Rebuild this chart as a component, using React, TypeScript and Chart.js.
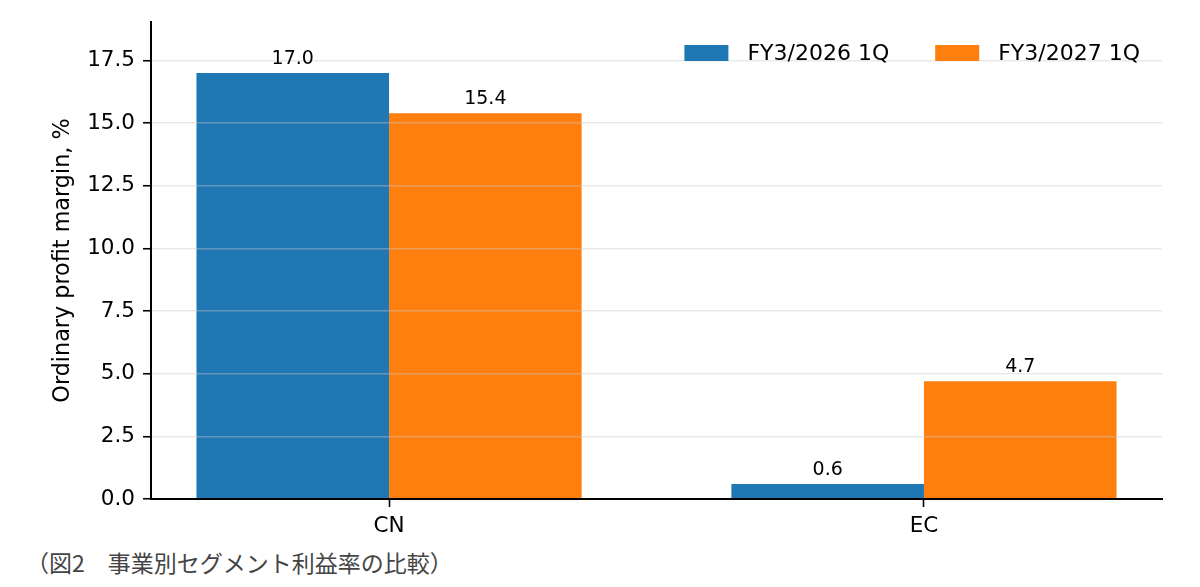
import { useEffect, useRef } from 'react';
import { Chart, registerables } from 'chart.js';
Chart.register(...registerables);

const categories = ['CN', 'EC'];
const seriesNames = ['FY3/2026 1Q', 'FY3/2027 1Q'];
const fy2026 = [17.0, 0.6];
const fy2027 = [15.4, 4.7];
const seriesColors = ['#1f77b4', '#ff7f0e'];
const yTicks = [0, 2.5, 5, 7.5, 10, 12.5, 15, 17.5];
const yMax = 19.04;
const yTitle = 'Ordinary profit margin, %';
const caption = '（図2　事業別セグメント利益率の比較）';

const FONT = '"DejaVu Sans", sans-serif';

// value labels above every bar
const valueLabels = {
  id: 'valueLabels',
  afterDraw(chart: any) {
    const ctx = chart.ctx;
    ctx.save();
    ctx.font = `19px ${FONT}`;
    ctx.fillStyle = '#000';
    ctx.textAlign = 'center';
    ctx.textBaseline = 'alphabetic';
    chart.data.datasets.forEach((ds: any, di: number) => {
      chart.getDatasetMeta(di).data.forEach((el: any, i: number) => {
        ctx.fillText(ds.data[i].y.toFixed(1), el.x, el.y - 9);
      });
    });
    ctx.restore();
  },
};

// matplotlib-like legend inside the upper right of the plot area
const innerLegend = {
  id: 'innerLegend',
  afterDraw(chart: any) {
    const { ctx, chartArea } = chart;
    ctx.save();
    ctx.font = `22px ${FONT}`;
    ctx.textBaseline = 'middle';
    ctx.textAlign = 'left';
    const boxW = 44, boxH = 16, boxGap = 19, itemGap = 46;
    const items = chart.data.datasets.map((ds: any) => ({
      label: ds.label,
      color: ds.backgroundColor,
      w: ctx.measureText(ds.label).width,
    }));
    const total = items.reduce((s: number, it: any) => s + boxW + boxGap + it.w, 0) + itemGap * (items.length - 1);
    let x = chartArea.right - 22 - total;
    const cy = chartArea.top + 31;
    items.forEach((it: any) => {
      ctx.fillStyle = it.color;
      ctx.fillRect(x, cy - boxH / 2, boxW, boxH);
      ctx.fillStyle = '#000';
      ctx.fillText(it.label, x + boxW + boxGap, cy + 1);
      x += boxW + boxGap + it.w + itemGap;
    });
    ctx.restore();
  },
};

export default function App() {
  const canvasRef = useRef<HTMLCanvasElement>(null);

  useEffect(() => {
    Chart.defaults.font.family = FONT;
    Chart.defaults.color = '#000';

    const series = [fy2026, fy2027];
    const chart = new Chart(canvasRef.current!, {
      type: 'bar',
      data: {
        datasets: series.map((vals, si) => ({
          label: seriesNames[si],
          data: categories.map((_, i) => ({ x: i, y: vals[i] })),
          backgroundColor: seriesColors[si],
          borderWidth: 0,
          categoryPercentage: 0.72,
          barPercentage: 1,
        })),
      },
      options: {
        animation: false,
        responsive: true,
        maintainAspectRatio: false,
        layout: { padding: { top: 22, right: 38, left: 0, bottom: 0 } },
        plugins: { legend: { display: false }, tooltip: { enabled: false } },
        scales: {
          x: {
            type: 'linear',
            offset: false,
            min: -0.445,
            max: 1.445,
            afterBuildTicks: (scale: any) => {
              scale.ticks = categories.map((_, i) => ({ value: i }));
            },
            afterFit: (scale: any) => { scale.height = 46; },
            ticks: {
              callback: (v: any) => categories[v] ?? '',
              font: { size: 21.5 },
              padding: 7,
              maxRotation: 0,
            },
            grid: {
              offset: false,
              drawOnChartArea: false,
              drawTicks: true,
              tickLength: 8,
              tickColor: '#000',
              tickWidth: 1.6,
            },
            border: { display: true, color: '#000', width: 2, z: 2 },
          },
          y: {
            min: 0,
            max: yMax,
            afterBuildTicks: (scale: any) => {
              scale.ticks = yTicks.map((v) => ({ value: v }));
            },
            afterFit: (scale: any) => { scale.width = 151; },
            ticks: {
              callback: (v: any) => Number(v).toFixed(1),
              font: { size: 21.5 },
              padding: 8,
            },
            grid: {
              color: 'rgba(200,200,200,0.4)',
              lineWidth: 1.5,
              tickLength: 8,
              tickColor: '#000',
              tickWidth: 1.6,
              z: 1,
            },
            border: { display: true, color: '#000', width: 2, z: 2 },
            title: {
              display: true,
              text: yTitle,
              font: { size: 22.3 },
              padding: { top: 50, bottom: 0 },
            },
          },
        },
      },
      plugins: [valueLabels, innerLegend],
    });

    return () => { chart.destroy(); };
  }, []);

  return (
    <div style={{ position: 'absolute', left: 0, top: 0, width: 1200, height: 587, background: '#fff' }}>
      <div style={{ position: 'absolute', left: 0, top: 0, width: 1200, height: 545 }}>
        <canvas ref={canvasRef} />
      </div>
      <div
        style={{
          position: 'absolute',
          left: 26,
          top: 551,
          fontFamily: '"Noto Sans CJK JP", sans-serif',
          fontSize: 23,
          lineHeight: '23px',
          color: '#444',
          whiteSpace: 'nowrap',
        }}
      >
        {caption}
      </div>
    </div>
  );
}
